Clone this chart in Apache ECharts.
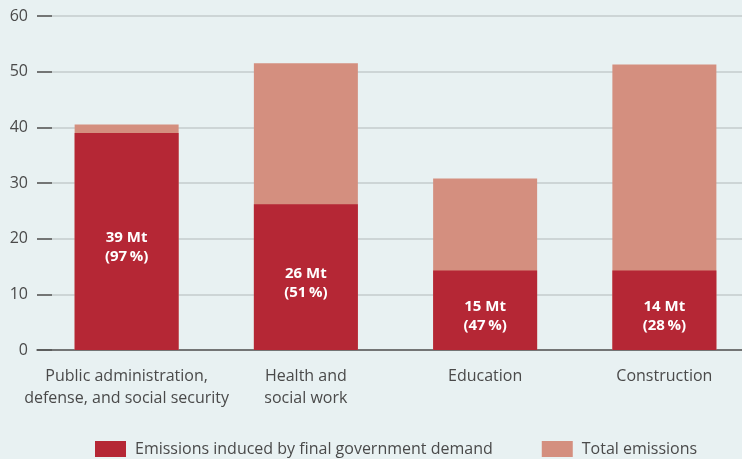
<!DOCTYPE html>
<html>
<head>
<meta charset="utf-8">
<script src="https://cdn.jsdelivr.net/npm/echarts@6/dist/echarts.min.js"></script>
<style>
html,body{margin:0;padding:0;background:#e8f1f2;}
#container{width:742px;height:459px;}
</style>
</head>
<body>
<div id="container"></div>
<script>
// categories
var categories = ['Public administration,\ndefense, and social security', 'Health and\nsocial work', 'Education', 'Construction'];
// emissions induced by final government demand (Mt)
var induced = [39.0, 26.2, 14.3, 14.3];
// total emissions (Mt)
var total = [40.5, 51.5, 30.8, 51.3];
// labels inside the red bars
var barLabels = ['39 Mt\n(97\u2009%)', '26 Mt\n(51\u2009%)', '15 Mt\n(47\u2009%)', '14 Mt\n(28\u2009%)'];
var yTicks = [0, 10, 20, 30, 40, 50, 60];

var font = 'Open Sans';
var dom = document.getElementById('container');
var myChart = echarts.init(dom);
var option = {
    backgroundColor: '#e8f1f2',
    textStyle: {fontFamily: font},
    grid: {left: 37, top: 16, width: 717, height: 334, outerBoundsMode: 'none'},
    legend: {
        left: 90,
        top: 436,
        itemWidth: 31,
        itemHeight: 16,
        itemGap: 49,
        icon: 'rect',
        data: ['Emissions induced by final government demand', 'Total emissions'],
        textStyle: {fontSize: 16, color: '#4a4a4a', fontFamily: font, padding: [0, 0, 0, 4]}
    },
    xAxis: {
        type: 'category',
        data: categories,
        axisLine: {lineStyle: {color: '#555', width: 1.5}},
        axisTick: {show: false},
        axisLabel: {fontSize: 16, color: '#4a4a4a', margin: 15, lineHeight: 22, interval: 0}
    },
    yAxis: {
        type: 'value',
        min: yTicks[0],
        max: yTicks[yTicks.length - 1],
        interval: 10,
        axisLine: {show: false},
        axisTick: {show: true, inside: true, length: 15, lineStyle: {color: '#555', width: 1.5}},
        axisLabel: {fontSize: 16, color: '#4a4a4a', margin: 9},
        splitLine: {lineStyle: {color: '#c5cbcd', width: 1.5}}
    },
    series: [
        {
            name: 'Total emissions',
            type: 'bar',
            data: total,
            barWidth: 104,
            itemStyle: {color: '#d48f7f'},
            z: 2
        },
        {
            name: 'Emissions induced by final government demand',
            type: 'bar',
            data: induced,
            barWidth: 104,
            barGap: '-100%',
            itemStyle: {color: '#b52735'},
            z: 3,
            label: {
                show: true,
                position: 'inside',
                offset: [0, 6],
                color: '#fff',
                fontSize: 15,
                fontWeight: 'bold',
                lineHeight: 19,
                fontFamily: font,
                formatter: function (p) { return barLabels[p.dataIndex]; }
            }
        }
    ]
};
myChart.setOption(option, true);
</script>
</body>
</html>
